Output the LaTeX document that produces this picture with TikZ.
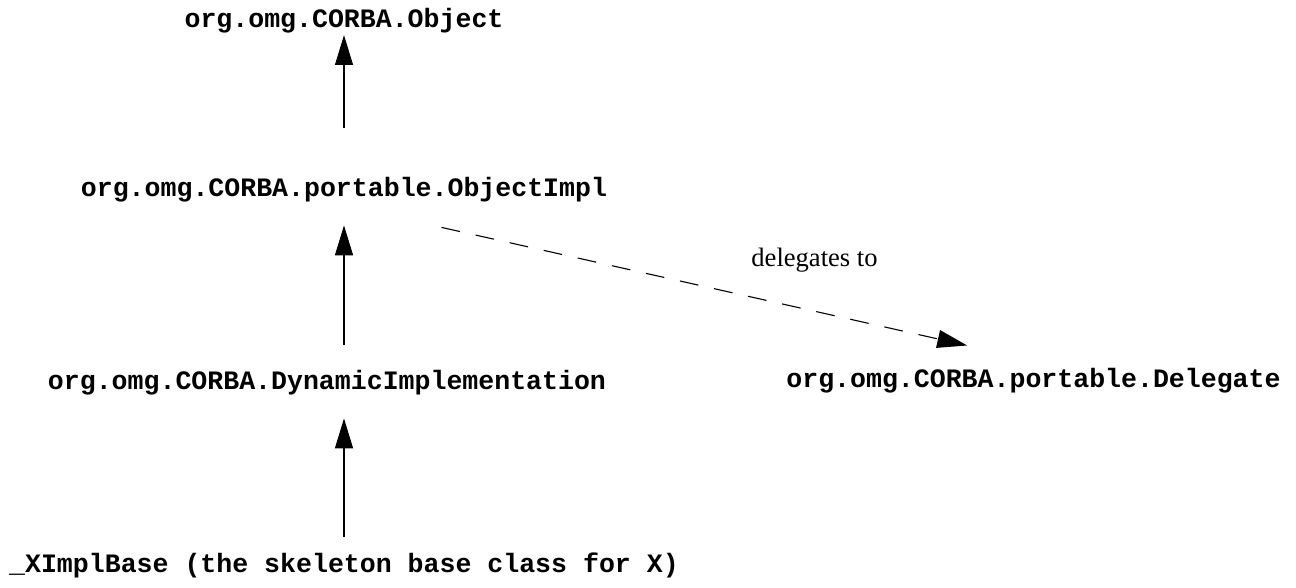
\documentclass[tikz,border=0pt]{standalone}
\usepackage{fontspec}
\setmainfont{Liberation Serif}
\setmonofont{Liberation Mono}
\usetikzlibrary{arrows.meta}
\tikzset{
	cls/.style={
		inner sep = 0pt,
		anchor = base,
		text height = 10pt,
		text depth = 3pt,
		font = \fontsize{12.1pt}{14pt}\selectfont\ttfamily\bfseries
	},
	note/.style={
		inner sep = 0pt,
		anchor = base,
		font = \fontsize{12.1pt}{14pt}\selectfont
	},
}
\tikzset{>={Triangle[length=13.6pt,width=8.2pt]}}

\begin{document}
\begin{tikzpicture}[x=0.016cm, y=-0.016cm, line width=0.5pt]
	\useasboundingbox (0,0) rectangle (1296,588);
	\node[cls] (obj) at (344,28) {org.omg.CORBA.Object};
	\node[cls] (impl) at (344,197) {org.omg.CORBA.portable.ObjectImpl};
	\node[cls] (dyn) at (327,390) {org.omg.CORBA.DynamicImplementation};
	\node[cls] (deleg) at (1033.5,388) {org.omg.CORBA.portable.Delegate};
	\node[cls] (ximpl) at (344,572) {\_XImplBase (the skeleton base class for X)};
	\node[note] (deltxt) at (814.5,267) {delegates to};
	% inheritance
	\draw[->, shorten <=21.3pt] (impl.north) -- (obj.south);
	\draw[->, shorten <=10.4pt, shorten >=9.7pt] (dyn.north -| impl.south) -- (impl.south);
	\draw[->, shorten <=5.9pt, shorten >=9.7pt] (ximpl.north) -- (dyn.south -| ximpl.north);
	% delegation
	\draw[->, dash pattern=on 8.6pt off 7.3pt] ([xshift=44.4pt,yshift=-10.6pt]impl.south) -- ([xshift=-30.2pt,yshift=9.1pt]deleg.north);
\end{tikzpicture}
\end{document}
